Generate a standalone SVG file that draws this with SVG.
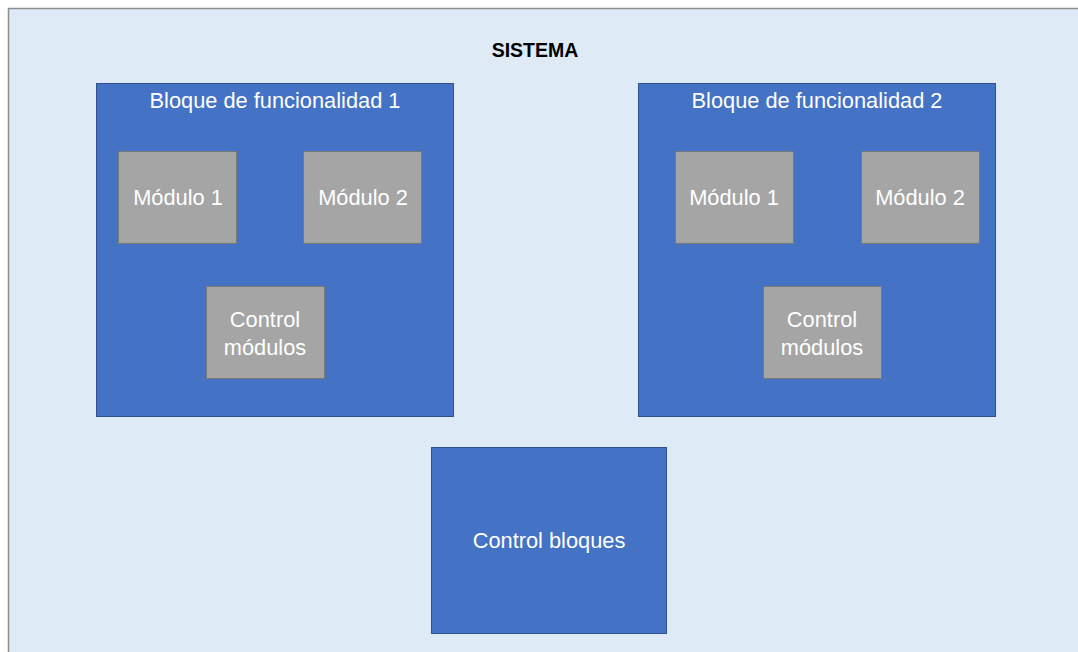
<svg xmlns="http://www.w3.org/2000/svg" width="1078" height="652" viewBox="0 0 1078 652">
<style>
.frame{fill:#DEEAF6;stroke:#8C8C8C;stroke-width:1.5}
.blk{fill:#4472C4;stroke:#2F528F;stroke-width:1}
.mod{fill:#A5A5A5;stroke:#787878;stroke-width:1}
.t{font-family:"Liberation Sans",Arial,sans-serif;font-size:21.8px;fill:#FFFFFF;text-anchor:middle}
.title{font-family:"Liberation Sans",Arial,sans-serif;font-size:19.5px;font-weight:bold;fill:#000000;text-anchor:middle}
</style>
<rect width="1078" height="652" fill="#FFFFFF"/>
<g id="sistema">
<rect class="frame" x="8.5" y="8.5" width="1080" height="660"/>
<text class="title" x="535" y="57">SISTEMA</text>
</g>
<g id="bloque1">
<rect class="blk" x="96.5" y="83.5" width="357" height="333"/>
<text class="t" x="275" y="108">Bloque de funcionalidad 1</text>
</g>
<g id="b1-modulo1">
<rect class="mod" x="118.5" y="151.5" width="118" height="92"/>
<text class="t" x="178" y="205">Módulo 1</text>
</g>
<g id="b1-modulo2">
<rect class="mod" x="303.5" y="151.5" width="118" height="92"/>
<text class="t" x="363" y="205">Módulo 2</text>
</g>
<g id="b1-control">
<rect class="mod" x="206.5" y="286.5" width="118" height="92"/>
<text class="t" x="265" y="327">Control</text>
<text class="t" x="265" y="355">módulos</text>
</g>
<g id="bloque2">
<rect class="blk" x="638.5" y="83.5" width="357" height="333"/>
<text class="t" x="817" y="108">Bloque de funcionalidad 2</text>
</g>
<g id="b2-modulo1">
<rect class="mod" x="675.5" y="151.5" width="118" height="92"/>
<text class="t" x="734" y="205">Módulo 1</text>
</g>
<g id="b2-modulo2">
<rect class="mod" x="861.5" y="151.5" width="118" height="92"/>
<text class="t" x="920" y="205">Módulo 2</text>
</g>
<g id="b2-control">
<rect class="mod" x="763.5" y="286.5" width="118" height="92"/>
<text class="t" x="822" y="327">Control</text>
<text class="t" x="822" y="355">módulos</text>
</g>
<g id="control-bloques">
<rect class="blk" x="431.5" y="447.5" width="235" height="186"/>
<text class="t" x="549" y="548">Control bloques</text>
</g>
<g id="connectors"></g>
</svg>
